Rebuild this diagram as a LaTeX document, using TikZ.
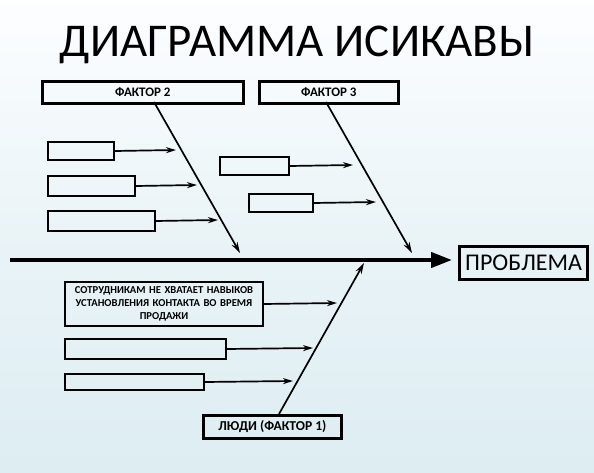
\documentclass[tikz,border=0pt]{standalone}
\usepackage{fontspec}
\setmainfont{Carlito}
\usetikzlibrary{arrows.meta,positioning,calc}
\definecolor{bgtop}{rgb}{0.99,0.995,1}
\definecolor{bgbot}{RGB}{221,237,242}
\tikzset{
  factor/.style={rectangle, draw=black, line width=2.8pt, anchor=north west, inner sep=0pt, text centered, font=\bfseries\fontsize{13}{15}\selectfont},
  cause/.style={rectangle, draw=black, line width=2pt, anchor=north west, inner sep=0pt},
  causetxt/.style={cause, text width=198pt, align=center, minimum height=44pt, font=\bfseries\fontsize{10.6}{12.8}\selectfont},
  problem/.style={rectangle, draw=black, line width=3.2pt, anchor=north west, inner sep=0pt, font=\fontsize{24}{26}\selectfont},
  line/.style={draw, line width=1.7pt, -{Stealth[length=10pt,width=6pt]}},
  bone/.style={draw, line width=1.7pt, -{Stealth[length=11pt,width=6.5pt]}},
  spine/.style={draw, line width=4.2pt, -{Triangle[length=21pt,width=15pt]}},
}
\begin{document}
\begin{tikzpicture}[x=1pt,y=-1pt]
    \shade[top color=bgtop,bottom color=bgbot,middle color=bgbot!60!bgtop] (0,0) rectangle (594,473);
    \useasboundingbox (0,0) rectangle (594,473);

    \node[anchor=base,font=\fontsize{47}{56}\selectfont] (title) at (297,57) {ДИАГРАММА ИСИКАВЫ};

    % factor boxes
    \node[factor,minimum width=201pt,minimum height=22pt] (f2) at (41,80) {ФАКТОР 2};
    \node[factor,minimum width=139pt,minimum height=22pt] (f3) at (258,80) {ФАКТОР 3};
    \node[factor,minimum width=138pt,minimum height=23pt,font=\bfseries\fontsize{13.6}{15}\selectfont] (f1) at (202,414) {ЛЮДИ (ФАКТОР 1)};
    \node[problem,minimum width=128pt,minimum height=33pt] (prob) at (458,245) {ПРОБЛЕМА};

    % causes
    \node[cause,minimum width=66pt,minimum height=18pt] (c21) at (47,141) {};
    \node[cause,minimum width=87pt,minimum height=20pt] (c22) at (47,175) {};
    \node[cause,minimum width=107pt,minimum height=20pt] (c23) at (47,210) {};
    \node[cause,minimum width=69pt,minimum height=18pt] (c31) at (219,156) {};
    \node[cause,minimum width=64pt,minimum height=18pt] (c32) at (248,193) {};
    \node[causetxt] (c11) at (64,281) {СОТРУДНИКАМ НЕ ХВАТАЕТ НАВЫКОВ\\ УСТАНОВЛЕНИЯ КОНТАКТА ВО ВРЕМЯ\\ ПРОДАЖИ};
    \node[cause,minimum width=161pt,minimum height=20pt] (c12) at (64,338) {};
    \node[cause,minimum width=139pt,minimum height=16pt] (c13) at (64,373) {};

    % bone ends
    \coordinate (tail) at (10,260);
    \coordinate (head) at (452,260);
    \coordinate (b2s) at (154,102);
    \coordinate (b2e) at (240,253);
    \coordinate (b3s) at (326,102);
    \coordinate (b3e) at (412,253);
    \coordinate (b1s) at (279,414);
    \coordinate (b1e) at (364,263);
    \coordinate (t21) at (176,150);
    \coordinate (t22) at (197,185);
    \coordinate (t23) at (218,220);
    \coordinate (t31) at (353,165);
    \coordinate (t32) at (376,202);
    \coordinate (t11) at (337,303);
    \coordinate (t12) at (313,348);
    \coordinate (t13) at (293,381);

    \path[spine] (tail) -- (head);
    \begin{scope}[every path/.style=bone]
      \path (b2s) -- (b2e);
      \path (b3s) -- (b3e);
      \path (b1s) -- (b1e);
    \end{scope}
    \begin{scope}[every path/.style=line]
      \path (c21.east) -- (t21);
      \path (c22.east) -- (t22);
      \path (c23.east) -- (t23);
      \path (c31.east) -- (t31);
      \path (c32.east) -- (t32);
      \path (c11.east) -- (t11);
      \path (c12.east) -- (t12);
      \path (c13.east) -- (t13);
    \end{scope}
\end{tikzpicture}
\end{document}
